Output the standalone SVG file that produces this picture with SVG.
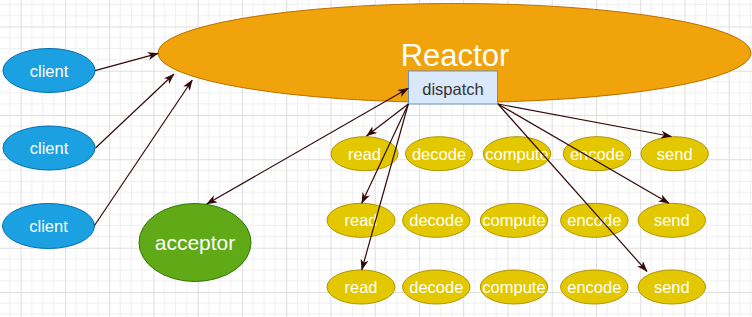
<svg xmlns="http://www.w3.org/2000/svg" width="752" height="317" viewBox="0 0 752 317">
<defs>
<pattern id="grid" patternUnits="userSpaceOnUse" x="20.7" y="26.5" width="44.25" height="44.25">
<path d="M11.06,0V44.25M22.12,0V44.25M33.19,0V44.25M0,11.06H44.25M0,22.12H44.25M0,33.19H44.25" stroke="#efefef" stroke-width="1" fill="none"/>
<path d="M0.5,0V44.25M0,0.5H44.25" stroke="#dedede" stroke-width="1" fill="none"/>
</pattern>
<marker id="arr" markerUnits="userSpaceOnUse" viewBox="0 0 11 8" refX="10.5" refY="4" markerWidth="11" markerHeight="8" orient="auto-start-reverse">
<path d="M0,0 L11,4 L0,8 L3,4 Z" fill="#330a0a"/>
</marker>
</defs>
<style>
.blue{fill:#1ba1e2;stroke:#006eaf;stroke-width:1}
.yel{fill:#e3c800;stroke:#b09500;stroke-width:1}
.t{font-family:"Liberation Sans",Arial,sans-serif;fill:#ffffff;text-anchor:middle;font-size:16.5px}
.c{fill:none;stroke:#330a0a;stroke-width:1.2}
.a{marker-end:url(#arr)}
.b{marker-start:url(#arr);marker-end:url(#arr)}
</style>
<rect x="0" y="0" width="752" height="317" fill="#ffffff"/>
<rect x="0" y="0" width="752" height="317" fill="url(#grid)"/>

<g id="reactor">
<ellipse cx="454.5" cy="53" rx="296.5" ry="49.5" fill="#f0a30a" stroke="#bd7000" stroke-width="1"/>
<text class="t" x="455" y="66" style="font-size:31px">Reactor</text>
</g>
<g id="dispatch">
<rect x="408.5" y="71" width="89" height="33" fill="#dae8fc" stroke="#6c8ebf" stroke-width="1"/>
<text class="t" x="453" y="94.5" style="fill:#333333">dispatch</text>
</g>

<g id="client1"><ellipse class="blue" cx="49" cy="70.5" rx="46" ry="22"/><text class="t" x="49" y="76.5">client</text></g>
<g id="client2"><ellipse class="blue" cx="49" cy="148" rx="46" ry="22"/><text class="t" x="49" y="154">client</text></g>
<g id="client3"><ellipse class="blue" cx="48.5" cy="226" rx="46" ry="22.5"/><text class="t" x="48.5" y="232">client</text></g>

<g id="acceptor"><ellipse cx="195" cy="242.5" rx="56" ry="39" fill="#60a917" stroke="#2d7600" stroke-width="1"/><text class="t" x="195" y="250" style="font-size:21px">acceptor</text></g>

<g id="read1"><ellipse class="yel" cx="364.5" cy="153.7" rx="33.5" ry="17"/><text class="t" x="364.5" y="159.7">read</text></g>
<g id="decode1"><ellipse class="yel" cx="439" cy="153.7" rx="33.5" ry="17"/><text class="t" x="439" y="159.7">decode</text></g>
<g id="compute1"><ellipse class="yel" cx="517" cy="153.7" rx="33.7" ry="17"/><text class="t" x="517" y="159.7">compute</text></g>
<g id="encode1"><ellipse class="yel" cx="597" cy="153.7" rx="33.7" ry="17"/><text class="t" x="597" y="159.7">encode</text></g>
<g id="send1"><ellipse class="yel" cx="674.7" cy="153.7" rx="33.7" ry="17"/><text class="t" x="674.7" y="159.7">send</text></g>

<g id="read2"><ellipse class="yel" cx="361" cy="220.3" rx="34" ry="17"/><text class="t" x="361" y="226.3">read</text></g>
<g id="decode2"><ellipse class="yel" cx="436.3" cy="220.3" rx="33.7" ry="17"/><text class="t" x="436.3" y="226.3">decode</text></g>
<g id="compute2"><ellipse class="yel" cx="514" cy="220.3" rx="33.7" ry="17"/><text class="t" x="514" y="226.3">compute</text></g>
<g id="encode2"><ellipse class="yel" cx="594.3" cy="220.3" rx="33.7" ry="17"/><text class="t" x="594.3" y="226.3">encode</text></g>
<g id="send2"><ellipse class="yel" cx="671.8" cy="220.3" rx="33.7" ry="17"/><text class="t" x="671.8" y="226.3">send</text></g>

<g id="read3"><ellipse class="yel" cx="361" cy="287" rx="34" ry="17"/><text class="t" x="361" y="293">read</text></g>
<g id="decode3"><ellipse class="yel" cx="436.3" cy="287" rx="33.7" ry="17"/><text class="t" x="436.3" y="293">decode</text></g>
<g id="compute3"><ellipse class="yel" cx="514" cy="287" rx="33.7" ry="17"/><text class="t" x="514" y="293">compute</text></g>
<g id="encode3"><ellipse class="yel" cx="594.3" cy="287" rx="33.7" ry="17"/><text class="t" x="594.3" y="293">encode</text></g>
<g id="send3"><ellipse class="yel" cx="671.8" cy="287" rx="33.7" ry="17"/><text class="t" x="671.8" y="293">send</text></g>

<g id="connectors">
<line class="c a" x1="95" y1="70.7" x2="158.3" y2="53.3"/>
<line class="c a" x1="95.5" y1="148" x2="174" y2="74"/>
<line class="c a" x1="94.5" y1="225.5" x2="192.3" y2="80"/>
<line class="c b" x1="206.7" y1="204" x2="408.3" y2="88.3"/>
<line class="c a" x1="408.3" y1="104" x2="366.5" y2="136"/>
<line class="c a" x1="408.3" y1="104" x2="361.7" y2="203.3"/>
<line class="c a" x1="408.3" y1="104" x2="361.7" y2="270"/>
<line class="c a" x1="498" y1="104" x2="671.5" y2="136.5"/>
<line class="c a" x1="498" y1="104" x2="669" y2="203.3"/>
<line class="c a" x1="498" y1="104" x2="647" y2="271.5"/>
</g>
</svg>
